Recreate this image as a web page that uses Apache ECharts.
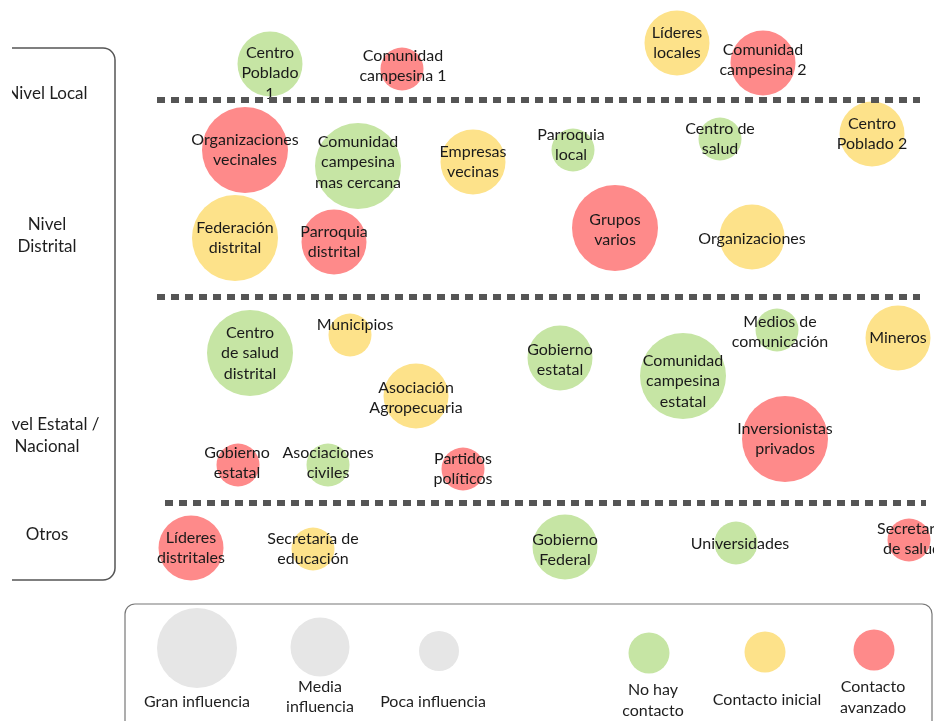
<!DOCTYPE html>
<html>
<head>
<meta charset="utf-8">
<script src="https://cdn.jsdelivr.net/npm/echarts@6/dist/echarts.min.js"></script>
<style>
html,body{margin:0;padding:0;background:#fff;}
#chart{width:934px;height:721px;}
</style>
</head>
<body>
<div id="chart"></div>
<script>
// ---- DATA ----
const actors = [
  "Centro\nPoblado\n1", "Comunidad\ncampesina 1", "Líderes\nlocales", "Comunidad\ncampesina 2",
  "Organizaciones\nvecinales", "Comunidad\ncampesina\nmas cercana", "Empresas\nvecinas", "Parroquia\nlocal",
  "Centro de\nsalud", "Centro\nPoblado 2", "Federación\ndistrital", "Parroquia\ndistrital",
  "Grupos\nvarios", "Organizaciones",
  "Centro\nde salud\ndistrital", "Municipios", "Asociación\nAgropecuaria", "Gobierno\nestatal",
  "Asociaciones\nciviles", "Partidos\npolíticos", "Gobierno\nestatal", "Comunidad\ncampesina\nestatal",
  "Medios de\ncomunicación", "Mineros", "Inversionistas\nprivados",
  "Líderes\ndistritales", "Secretaría de\neducación", "Gobierno\nFederal", "Universidades", "Secretaría\nde salud"
];
const posX = [270, 402, 677, 763, 245, 358, 473, 573, 720, 872, 235, 334, 615, 752,
              250, 350, 416, 238, 328, 463, 560, 683, 777, 898, 785,
              191, 313, 565, 736, 909];
const posY = [64, 69, 43, 63, 150, 166, 162, 150, 139, 134, 238, 242, 228, 237,
              353, 335, 396, 465, 465, 469, 358, 376, 330, 338, 439,
              548, 549, 547, 543, 540];
// influence: 3 = Gran, 2 = Media, 1 = Poca
const influence = [2, 1, 2, 2, 3, 3, 2, 1, 1, 2, 3, 2, 3, 2,
                   3, 1, 2, 1, 1, 1, 2, 3, 1, 2, 3,
                   2, 1, 2, 1, 1];
// contact: 0 = No hay contacto, 1 = Contacto inicial, 2 = Contacto avanzado
const contact = [0, 2, 1, 2, 2, 0, 1, 0, 0, 1, 1, 2, 2, 1,
                 0, 1, 1, 2, 0, 2, 0, 0, 0, 1, 2,
                 2, 1, 0, 0, 2];
const levels = ["Nivel Local", "Nivel\nDistrital", "Nivel Estatal /\nNacional", "Otros"];
const levelY = [94, 236, 436, 535];
const separators = [[157, 920, 100], [157, 920, 297], [165, 926, 503]];
const influenceNames = ["Gran influencia", "Media\ninfluencia", "Poca influencia"];
const contactNames = ["No hay\ncontacto", "Contacto inicial", "Contacto\navanzado"];

// ---- STYLE ----
const FONT = "Lato";
const contactColors = ["#c6e5a4", "#fde28a", "#fe8a8a"];
const sizeFor = {3: 86, 2: 65, 1: 43};
const labelNudge = {0:[0,9], 1:[1,-3], 3:[0,-3], 5:[0,-4], 7:[-2,-5], 12:[0,2], 13:[0,2],
                    15:[5,-10], 16:[0,2], 17:[-1,-2], 18:[0,-2], 20:[0,2], 21:[0,5], 22:[3,2],
                    27:[0,3], 28:[4,1], 29:[3,-1]};

const data = actors.map((n, i) => ({
  value: [posX[i], posY[i]],
  name: n,
  symbolSize: sizeFor[influence[i]],
  itemStyle: {color: contactColors[contact[i]]},
  label: {offset: labelNudge[i] || [0, 0]}
}));

const chart = echarts.init(document.getElementById('chart'));

const graphics = [];
// bracket
graphics.push({type:'rect', shape:{x:-20, y:48, width:135, height:532, r:12},
  style:{stroke:'#555', lineWidth:1.5, fill:null}, z:10});
levels.forEach((t, i) => graphics.push({type:'text', x:47, y:levelY[i], z:10,
  style:{text:t, font:'17px ' + FONT, fill:'#1e1e1e', align:'center', verticalAlign:'middle', lineHeight:22}}));
graphics.push({type:'rect', shape:{x:0, y:0, width:12, height:600}, style:{fill:'#fff'}, z:20});
// legend box
graphics.push({type:'rect', shape:{x:125, y:604, width:807, height:140, r:10}, style:{stroke:'#777', lineWidth:1.2, fill:null}, z:10});
const legSize = [[197,648,40],[320,647,29.5],[439,651,20]];
const legSizeLbl = [[197,702],[320,697],[433,702]];
legSize.forEach((c,i)=>{
  graphics.push({type:'circle', shape:{cx:c[0], cy:c[1], r:c[2]}, style:{fill:'#e6e6e6'}, z:10});
  graphics.push({type:'text', x:legSizeLbl[i][0], y:legSizeLbl[i][1], z:10,
    style:{text:influenceNames[i], font:'16px ' + FONT, fill:'#1e1e1e', align:'center', verticalAlign:'middle', lineHeight:20}});
});
const legCol = [[649,653],[765,652],[874,650]];
const legColLbl = [[653,700],[767,700],[873,697]];
legCol.forEach((c,i)=>{
  graphics.push({type:'circle', shape:{cx:c[0], cy:c[1], r:20.5}, style:{fill:contactColors[i]}, z:10});
  graphics.push({type:'text', x:legColLbl[i][0], y:legColLbl[i][1], z:10,
    style:{text:contactNames[i], font:'16px ' + FONT, fill:'#1e1e1e', align:'center', verticalAlign:'middle', lineHeight:21}});
});

chart.setOption({
  animation:false,
  grid:{left:0, right:0, top:0, bottom:0},
  xAxis:{type:'value', min:0, max:934, show:false},
  yAxis:{type:'value', min:0, max:721, inverse:true, show:false},
  series:[{
    type:'scatter',
    data:data,
    label:{show:true, position:'inside', formatter:p=>p.name, color:'#1a1a1a',
      fontFamily:FONT, fontSize:16, lineHeight:20.5},
    itemStyle:{opacity:1},
    emphasis:{disabled:true},
    markLine:{
      silent:true, symbol:'none', label:{show:false},
      lineStyle:{color:'#555', width:6, type:[8,6], cap:'butt'},
      data: separators.map(s => [{coord:[s[0], s[2]]}, {coord:[s[1], s[2]]}])
    }
  }],
  graphic: graphics
});
</script>
</body>
</html>
